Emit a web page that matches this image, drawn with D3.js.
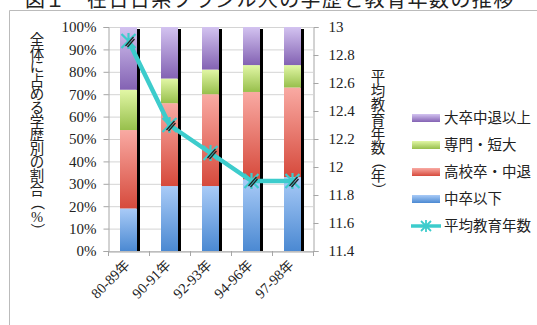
<!DOCTYPE html>
<html><head><meta charset="utf-8">
<script src="https://cdn.jsdelivr.net/npm/d3@7"></script>
<style>body{margin:0;background:#fff;overflow:hidden}svg{display:block}</style>
</head><body>
<svg id="c" width="537" height="325"></svg>
<script>
const categories = ["80-89年","90-91年","92-93年","94-96年","97-98年"];
const seriesNames = ["中卒以下","高校卒・中退","専門・短大","大卒中退以上"];
const juniorHigh = [19, 29, 29, 32, 33];
const highSchool = [35, 37, 41, 39, 40];
const vocational = [18, 11, 11, 12, 10];
const university = [28, 23, 19, 17, 17];
const avgYears = [12.9, 12.3, 12.1, 11.9, 11.9];
const leftTicks = [0,10,20,30,40,50,60,70,80,90,100];
const rightTicks = [11.4,11.6,11.8,12,12.2,12.4,12.6,12.8,13];
const titleHead = "図１";
const title = "在日日系ブラジル人の学歴と教育年数の推移";
const leftLabel = "全体に占める学歴別の割合（%）";
const rightLabel = "平均教育年数（年）";
const lineName = "平均教育年数";

const svg = d3.select("#c");
const serif = "'Liberation Serif','DejaVu Serif',serif";
const jp = "'Noto Sans CJK JP',sans-serif";
const L = 108, R = 313, T = 27, B = 251;

const colors = [
  ["#a9cbf7","#4b89d2"],
  ["#f9aaa3","#d64a3c"],
  ["#e2f7a6","#97bf4c"],
  ["#d3c3f0","#8362b3"]
];
const defs = svg.append("defs");
colors.forEach((c,i)=>{
  const g = defs.append("linearGradient").attr("id","g"+i).attr("x1",0).attr("y1",0).attr("x2",0).attr("y2",1);
  g.append("stop").attr("offset","0%").attr("stop-color",c[0]);
  g.append("stop").attr("offset","100%").attr("stop-color",c[1]);
});

// title and frame
svg.append("text").attr("x",25).attr("y",7).attr("font-family",jp).attr("font-size",20).attr("fill","#222").text(titleHead);
svg.append("text").attr("x",87).attr("y",7).attr("font-family",jp).attr("font-size",20).attr("letter-spacing",1.4).attr("fill","#222").text(title);
svg.append("path").attr("d","M9.5,325V10.5H537").attr("fill","none").attr("stroke","#bbb").attr("stroke-width",1);

const x = d3.scaleBand().domain(categories).range([L,R]).paddingInner(0).paddingOuter(0);
const y = d3.scaleLinear().domain([0,100]).range([B,T]);
const y2 = d3.scaleLinear().domain([11.4,13]).range([B,T]);

// gridlines
svg.append("g").selectAll("line").data(leftTicks).join("line")
  .attr("x1",L).attr("x2",R).attr("y1",d=>y(d)+0.5).attr("y2",d=>y(d)+0.5)
  .attr("stroke","#d4d4d4");

// left axis
const la = svg.append("g").attr("transform",`translate(${L+0.5},0)`)
  .call(d3.axisLeft(y).tickValues(leftTicks).tickFormat(d=>d+"%").tickSize(5).tickPadding(7));
la.selectAll("path,line").attr("stroke","#a6a6a6");
la.selectAll("text").attr("font-family",serif).attr("font-size",15).attr("fill","#222");

// right axis
const ra = svg.append("g").attr("transform",`translate(${R+0.5},0)`)
  .call(d3.axisRight(y2).tickValues(rightTicks).tickFormat(d=>d3.format("")(+d.toFixed(1))).tickSize(5).tickPadding(10));
ra.selectAll("path,line").attr("stroke","#a6a6a6");
ra.selectAll("text").attr("font-family",serif).attr("font-size",15).attr("fill","#222");

// bottom axis
const ba = svg.append("g").attr("transform",`translate(0,${B+0.5})`)
  .call(d3.axisBottom(x).tickSize(0).tickFormat(""));
ba.selectAll("path").attr("stroke","#a6a6a6");
const bounds = d3.range(categories.length+1).map(i=>L+i*x.bandwidth());
svg.append("g").selectAll("line").data(bounds).join("line")
  .attr("x1",d=>Math.round(d)+0.5).attr("x2",d=>Math.round(d)+0.5).attr("y1",B).attr("y2",B+5).attr("stroke","#a6a6a6");
svg.append("g").selectAll("text").data(categories).join("text")
  .attr("transform",d=>`translate(${x(d)+x.bandwidth()/2+2},${B+15}) rotate(-45)`)
  .attr("text-anchor","end").attr("font-family",serif).attr("font-size",14.5).attr("fill","#222")
  .each(function(d){
    const m = d.match(/^(.*?)(年)$/);
    const t = d3.select(this);
    t.append("tspan").text(m[1]);
    t.append("tspan").attr("font-family",jp).attr("font-size",13.5).text(m[2]);
  });

// stacked bars
const rows = categories.map((c,i)=>({cat:c, v:[juniorHigh[i],highSchool[i],vocational[i],university[i]]}));
const bw = 17;
const bars = svg.append("g");
rows.forEach(r=>{
  const cx = x(r.cat)+x.bandwidth()/2;
  bars.append("rect").attr("x",cx+bw/2-0.5).attr("y",y(100)+2).attr("width",3.5).attr("height",y(0)-y(100)-2).attr("fill","#000");
  let acc = 0;
  r.v.forEach((v,k)=>{
    bars.append("rect").attr("x",cx-bw/2).attr("y",y(acc+v)).attr("width",bw).attr("height",y(acc)-y(acc+v))
      .attr("fill",`url(#g${k})`);
    acc += v;
  });
});

// line
const lc = "#3dcccc";
const line = d3.line().x((d,i)=>x(categories[i])+x.bandwidth()/2).y(d=>y2(d));
svg.append("path").datum(avgYears).attr("d",line).attr("fill","none").attr("stroke",lc).attr("stroke-width",4.5).attr("stroke-linejoin","round");
function marker(g,cx,cy){
  const s=7;
  g.append("path").attr("d",`M${cx-s},${cy-s}L${cx+s},${cy+s}M${cx-s},${cy+s}L${cx+s},${cy-s}M${cx},${cy-s-1}V${cy+s+1}`)
    .attr("stroke",lc).attr("stroke-width",2.2);
  g.append("path").attr("d",`M${cx-3},${cy+5}L${cx+5},${cy-4}M${cx-1},${cy+6}L${cx+6},${cy-2}`)
    .attr("stroke","#222").attr("stroke-width",1.3);
}
const mg = svg.append("g");
avgYears.forEach((d,i)=>marker(mg,x(categories[i])+x.bandwidth()/2,y2(d)));

// vertical axis titles, one glyph per row
function vtext(str, cx, top, step, size){
  const g = svg.append("g");
  Array.from(str).forEach((ch,i)=>{
    const cy = top + step*i + step/2;
    const rot = (ch==="（"||ch==="）") ? 90 : 0;
    g.append("text").attr("transform",`translate(${cx},${cy}) rotate(${rot})`)
      .attr("text-anchor","middle").attr("dy","0.36em")
      .attr("font-family", ch==="%" ? serif : jp).attr("font-size",size).attr("fill","#222").text(ch);
  });
}
vtext(leftLabel, 37, 33, 13.6, 14.5);
vtext(rightLabel, 378, 70, 14.1, 14.5);

// legend
const lg = svg.append("g");
const legItems = [3,2,1,0];
legItems.forEach((k,j)=>{
  const yy = 118 + j*27;
  lg.append("rect").attr("x",412).attr("y",yy-4).attr("width",28).attr("height",8).attr("fill",`url(#g${k})`);
  lg.append("text").attr("x",444).attr("y",yy).attr("dy","0.36em").attr("font-family",jp).attr("font-size",14.5).attr("fill","#222").text(seriesNames[k]);
});
const ly = 118 + 4*27;
lg.append("line").attr("x1",411).attr("x2",441).attr("y1",ly).attr("y2",ly).attr("stroke",lc).attr("stroke-width",3.5);
lg.append("path").attr("d",`M${426-5},${ly-5}L${426+5},${ly+5}M${426-5},${ly+5}L${426+5},${ly-5}M426,${ly-6}V${ly+6}`).attr("stroke",lc).attr("stroke-width",1.8);
lg.append("text").attr("x",444).attr("y",ly).attr("dy","0.36em").attr("font-family",jp).attr("font-size",14.5).attr("fill","#222").text(lineName);
</script>
</body></html>
